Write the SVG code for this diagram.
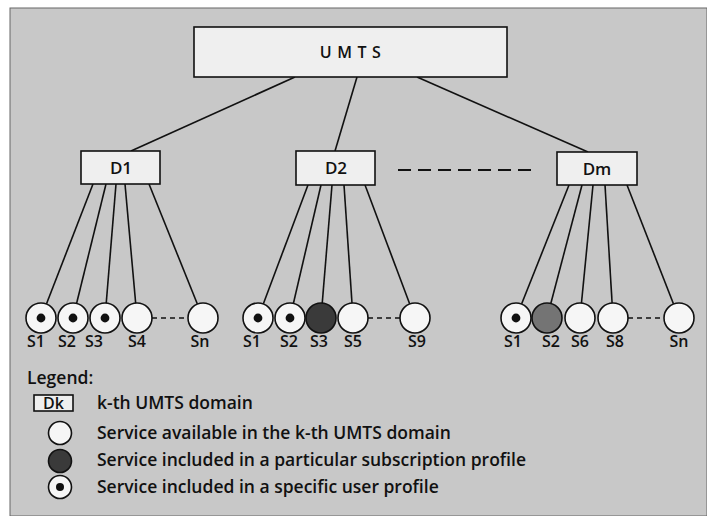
<svg xmlns="http://www.w3.org/2000/svg" width="707" height="516" viewBox="0 0 707 516">
  <defs>
    <style>
      text { font-family: "Open Sans", "Liberation Sans", sans-serif; fill: #111; }
      .box { fill: #efefef; stroke: #111; stroke-width: 1.6; }
      .link { stroke: #111; stroke-width: 1.6; fill: none; }
      .dash { stroke: #111; stroke-width: 1.4; stroke-dasharray: 5 4; fill: none; }
      .bigdash { stroke: #111; stroke-width: 1.8; stroke-dasharray: 13 7; fill: none; }
      .svc { fill: #f6f6f6; stroke: #111; stroke-width: 1.6; }
      .sub { fill: #3a3a3a; stroke: #111; stroke-width: 1.6; }
      .sub2 { fill: #747474; stroke: #111; stroke-width: 1.6; }
      .dot { fill: #111; }
      .lbl { font-size: 16px; font-weight: 600; text-anchor: middle; }
      .dom { font-size: 17px; font-weight: 600; text-anchor: middle; }
      .leg { font-size: 17.5px; font-weight: 600; }
    </style>
    <symbol id="user" overflow="visible">
      <circle class="svc" cx="0" cy="0" r="15"/>
      <circle class="dot" cx="0" cy="0" r="4.4"/>
    </symbol>
  </defs>

  <!-- page background -->
  <rect x="0" y="0" width="707" height="516" fill="#ffffff"/>
  <rect x="10" y="8" width="697" height="508" fill="#c8c8c8" stroke="#666" stroke-width="1"/>

  <!-- connectors -->
  <g id="connectors">
    <line class="link" x1="295" y1="77" x2="131" y2="151"/>
    <line class="link" x1="357" y1="77" x2="335" y2="151"/>
    <line class="link" x1="417" y1="77" x2="588" y2="152"/>

    <line class="link" x1="93" y1="184" x2="41" y2="318"/>
    <line class="link" x1="106" y1="184" x2="73" y2="318"/>
    <line class="link" x1="116" y1="184" x2="105" y2="318"/>
    <line class="link" x1="125" y1="184" x2="137" y2="318"/>
    <line class="link" x1="149" y1="184" x2="203" y2="318"/>

    <line class="link" x1="308" y1="185" x2="258" y2="318"/>
    <line class="link" x1="321" y1="185" x2="290" y2="318"/>
    <line class="link" x1="332" y1="185" x2="321" y2="318"/>
    <line class="link" x1="344" y1="185" x2="353" y2="318"/>
    <line class="link" x1="365" y1="185" x2="415" y2="318"/>

    <line class="link" x1="569" y1="185" x2="516" y2="318"/>
    <line class="link" x1="582" y1="185" x2="547" y2="318"/>
    <line class="link" x1="593" y1="185" x2="580" y2="318"/>
    <line class="link" x1="605" y1="185" x2="613" y2="318"/>
    <line class="link" x1="627" y1="185" x2="679" y2="318"/>

    <line class="bigdash" x1="398" y1="170" x2="531" y2="170"/>
    <line class="dash" x1="152" y1="318" x2="188" y2="318"/>
    <line class="dash" x1="368" y1="318" x2="400" y2="318"/>
    <line class="dash" x1="628" y1="318" x2="664" y2="318"/>
  </g>

  <!-- root -->
  <g id="umts">
    <rect class="box" x="194" y="27" width="313" height="50"/>
    <text x="353" y="58" font-size="16" font-weight="600" text-anchor="middle" letter-spacing="5.5">UMTS</text>
  </g>

  <!-- domains -->
  <g id="d1">
    <rect class="box" x="81" y="151" width="79" height="33"/>
    <text class="dom" x="121" y="174">D1</text>
  </g>
  <g id="d2">
    <rect class="box" x="296" y="151" width="79" height="34"/>
    <text class="dom" x="336" y="174">D2</text>
  </g>
  <g id="dm">
    <rect class="box" x="557" y="152" width="80" height="33"/>
    <text class="dom" x="597" y="175">Dm</text>
  </g>

  <!-- services of D1 -->
  <g id="d1-s1"><use href="#user" x="41" y="318"/><text class="lbl" x="36" y="347">S1</text></g>
  <g id="d1-s2"><use href="#user" x="73" y="318"/><text class="lbl" x="67" y="347">S2</text></g>
  <g id="d1-s3"><use href="#user" x="105" y="318"/><text class="lbl" x="94" y="347">S3</text></g>
  <g id="d1-s4"><circle class="svc" cx="137" cy="318" r="15"/><text class="lbl" x="137" y="347">S4</text></g>
  <g id="d1-sn"><circle class="svc" cx="203" cy="318" r="15"/><text class="lbl" x="200" y="347">Sn</text></g>

  <!-- services of D2 -->
  <g id="d2-s1"><use href="#user" x="258" y="318"/><text class="lbl" x="252" y="347">S1</text></g>
  <g id="d2-s2"><use href="#user" x="290" y="318"/><text class="lbl" x="289" y="347">S2</text></g>
  <g id="d2-s3"><circle class="sub" cx="321" cy="318" r="15"/><text class="lbl" x="319" y="347">S3</text></g>
  <g id="d2-s5"><circle class="svc" cx="353" cy="318" r="15"/><text class="lbl" x="353" y="347">S5</text></g>
  <g id="d2-s9"><circle class="svc" cx="415" cy="318" r="15"/><text class="lbl" x="417" y="347">S9</text></g>

  <!-- services of Dm -->
  <g id="dm-s1"><use href="#user" x="516" y="318"/><text class="lbl" x="513" y="347">S1</text></g>
  <g id="dm-s2"><circle class="sub2" cx="547" cy="318" r="15"/><text class="lbl" x="551" y="347">S2</text></g>
  <g id="dm-s6"><circle class="svc" cx="580" cy="318" r="15"/><text class="lbl" x="580" y="347">S6</text></g>
  <g id="dm-s8"><circle class="svc" cx="613" cy="318" r="15"/><text class="lbl" x="615" y="347">S8</text></g>
  <g id="dm-sn"><circle class="svc" cx="679" cy="318" r="15"/><text class="lbl" x="679" y="347">Sn</text></g>

  <!-- legend -->
  <g id="legend">
    <text class="leg" x="27" y="384">Legend:</text>
    <rect class="box" x="34" y="395" width="39" height="16"/>
    <text x="53.5" y="409" font-size="16" font-weight="600" text-anchor="middle">Dk</text>
    <text class="leg" x="97" y="409">k-th UMTS domain</text>
    <circle class="svc" cx="60" cy="433" r="11.5"/>
    <text class="leg" x="97" y="439">Service available in the k-th UMTS domain</text>
    <circle class="sub" cx="60" cy="461" r="11.5"/>
    <text class="leg" x="97" y="466">Service included in a particular subscription profile</text>
    <circle class="svc" cx="60" cy="487" r="11.5"/>
    <circle class="dot" cx="60" cy="487" r="4"/>
    <text class="leg" x="97" y="493">Service included in a specific user profile</text>
  </g>
</svg>
